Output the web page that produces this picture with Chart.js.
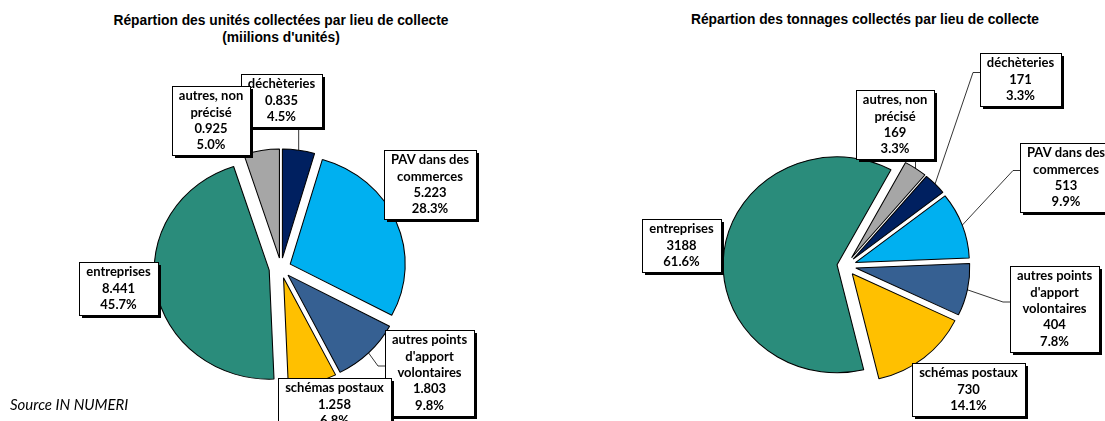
<!DOCTYPE html>
<html lang="fr">
<head>
<meta charset="UTF-8">
<title>Répartition par lieu de collecte</title>
<script src="https://cdn.jsdelivr.net/npm/chart.js"></script>
<style>
  html, body { margin: 0; padding: 0; background: #fff; overflow: hidden; }
  body { position: relative; width: 1105px; height: 421px; }
  canvas { position: absolute; top: 0; }
  #chart-units { left: 0; }
  #chart-tonnes { left: 587px; }
  .title { position: absolute; width: 520px; text-align: center; color: #000;
           font: bold 13.8px "Liberation Sans", Arial, sans-serif; line-height: 17px; }
  .source { position: absolute; left: 10px; top: 395px; font: italic 15px Lato, sans-serif; color: #000; }
</style>
</head>
<body>
<div class="title" style="left:21px; top:12px">Répartion des unités collectées par lieu de collecte<br>(miilions d'unités)</div>
<div class="title" style="left:605px; top:11px">Répartion des tonnages collectés par lieu de collecte</div>
<canvas id="chart-units" width="562" height="421"></canvas>
<canvas id="chart-tonnes" width="518" height="421"></canvas>
<div class="source">Source IN NUMERI</div>
<script>
// data, same slice order in both pies (clockwise)
const categories = [
    'déchèteries',
    ['PAV dans des', 'commerces'],
    ['autres points', "d'apport", 'volontaires'],
    'schémas postaux',
    'entreprises',
    ['autres, non', 'précisé']
];
const unitValues = [0.835, 5.223, 1.803, 1.258, 8.441, 0.925];     // millions d'unités
const tonnageValues = [171, 513, 404, 730, 3188, 169];              // tonnes
const sliceColors = ['#002060', '#00B0F0', '#366092', '#FFC000', '#2A8C7B', '#A6A6A6'];

// draws each arc pushed out along its middle angle, pie slightly stretched in x
const explodePlugin = {
    id: 'explode',
    beforeDatasetDraw(chart, args, opts) {
        const ctx = chart.ctx;
        const arcs = args.meta.data;
        const ds = chart.data.datasets[args.index];
        const cx = arcs[0].x, cy = arcs[0].y;
        ctx.save();
        ctx.translate(cx, cy);
        ctx.scale(opts.stretch, 1);
        ctx.translate(-cx, -cy);
        arcs.forEach((arc, i) => {
            const mid = (arc.startAngle + arc.endAngle) / 2;
            const d = ds.explode[i];
            ctx.save();
            ctx.translate(Math.cos(mid) * d / opts.stretch, Math.sin(mid) * d);
            arc.draw(ctx);
            ctx.restore();
        });
        ctx.restore();
        return false;
    }
};

// Excel-like framed labels with shadow and leader lines
const boxLabelPlugin = {
    id: 'boxLabels',
    afterDraw(chart, args, opts) {
        const ctx = chart.ctx;
        const meta = chart.getDatasetMeta(0);
        const ds = chart.data.datasets[0];
        const stretch = chart.options.plugins.explode.stretch;
        const total = ds.data.reduce((a, b) => a + b, 0);
        const lineH = 16.3;

        ctx.save();
        ctx.font = 'bold 13px Lato, sans-serif';
        const boxes = meta.data.map((arc, i) => {
            const name = chart.data.labels[i];
            const lines = (Array.isArray(name) ? name : [name])
                .concat([opts.format(ds.data[i]), (ds.data[i] / total * 100).toFixed(1) + '%']);
            const w = Math.round(Math.max(...lines.map(t => ctx.measureText(t).width)) + 14);
            const h = Math.round(lines.length * lineH + 4);
            const [bx, by] = opts.boxes[i];
            return { lines, x: Math.round(bx - w / 2), y: by, w, h };
        });

        // leader lines
        ctx.strokeStyle = '#000';
        ctx.lineWidth = 0.8;
        meta.data.forEach((arc, i) => {
            if (!opts.leaders[i]) return;
            const b = boxes[i];
            const mid = (arc.startAngle + arc.endAngle) / 2;
            const d = ds.explode[i];
            const r = arc.outerRadius;
            const ax = arc.x + Math.cos(mid) * (d + r * stretch);
            const ay = arc.y + Math.sin(mid) * (d + r);
            ctx.beginPath();
            ctx.moveTo(ax, ay);
            if (ax >= b.x && ax <= b.x + b.w) {
                ctx.lineTo(ax, ay > b.y ? b.y + b.h : b.y);
            } else {
                const ex = ax < b.x ? b.x : b.x + b.w;
                const ey = b.y + b.h / 2 - 7;
                ctx.lineTo(ex + (ax < b.x ? -7 : 7), ey);
                ctx.lineTo(ex, ey);
            }
            ctx.stroke();
        });

        // boxes
        ctx.textAlign = 'center';
        ctx.textBaseline = 'middle';
        boxes.forEach(b => {
            ctx.fillStyle = '#000';
            ctx.fillRect(b.x + 3, b.y + 3, b.w, b.h);
            ctx.fillStyle = '#fff';
            ctx.fillRect(b.x, b.y, b.w, b.h);
            ctx.lineWidth = 1;
            ctx.strokeRect(b.x + 0.5, b.y + 0.5, b.w, b.h);
            ctx.fillStyle = '#000';
            b.lines.forEach((t, k) => {
                ctx.fillText(t, b.x + b.w / 2, b.y + 2 + lineH * (k + 0.5));
            });
        });
        ctx.restore();
    }
};

const makePie = (id, values, opts) => new Chart(document.getElementById(id), {
    type: 'pie',
    data: {
        labels: categories,
        datasets: [{
            data: values,
            backgroundColor: sliceColors,
            borderColor: '#000',
            borderWidth: 1,
            explode: opts.explode
        }]
    },
    options: {
        responsive: false,
        animation: false,
        events: [],
        radius: opts.radius,
        rotation: opts.rotation,
        layout: { padding: { top: opts.padTop } },
        plugins: {
            legend: { display: false },
            tooltip: { enabled: false },
            explode: { stretch: 1.055 },
            boxLabels: {
                format: opts.format,
                boxes: opts.boxes,
                leaders: opts.leaders
            }
        }
    },
    plugins: [explodePlugin, boxLabelPlugin]
});

makePie('chart-units', unitValues, {
    radius: 109,
    rotation: 0,
    padTop: 115,
    explode: [10, 10, 10, 10, 12, 10],
    format: v => v.toFixed(3),
    boxes: [[281, 74], [430, 150], [429, 330], [334, 378], [118, 262], [211, 86]],
    leaders: [true, false, true, false, false, false]
});

makePie('chart-tonnes', tonnageValues, {
    radius: 108,
    rotation: 40,
    padTop: 111,
    explode: [10, 10, 10, 10, 9, 10],
    format: v => String(v),
    boxes: [[433, 53], [479, 143], [467, 266], [381, 363], [94, 219], [308, 90]],
    leaders: [true, true, true, false, false, true]
});
</script>
</body>
</html>
